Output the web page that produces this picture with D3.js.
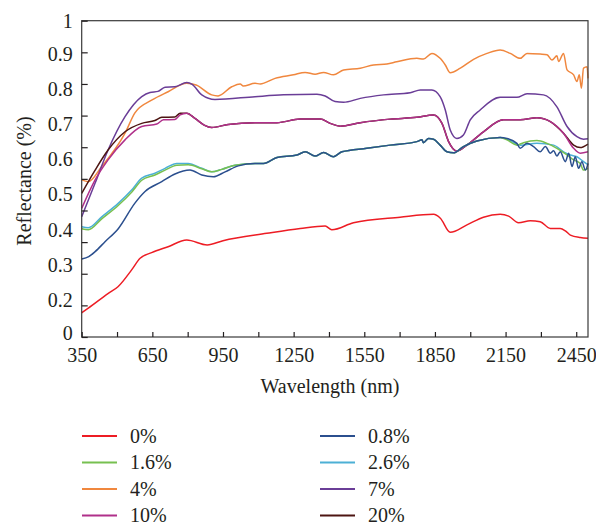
<!DOCTYPE html>
<html>
<head>
<meta charset="utf-8">
<script src="https://cdn.jsdelivr.net/npm/d3@7"></script>
<style>
  body { margin: 0; background: #fff; }
  text { font-family: "Liberation Serif", "DejaVu Serif", serif; fill: #231f20; }
</style>
</head>
<body>
<div id="chart"></div>
<script>
// values: [wavelength nm, reflectance]
var red = [[350,.158],[378,.171],[463,.213],[504,.232],[562,.280],[598,.313],[647,.329],[717,.346],[796,.365],[883,.351],[950,.363],[1136,.384],[1278,.398],[1384,.405],[1412,.394],[1504,.414],[1702,.430],[1844,.438],[1873,.427],[1915,.387],[1986,.408],[2056,.430],[2127,.438],[2163,.433],[2205,.414],[2255,.420],[2297,.417],[2340,.398],[2382,.398],[2404,.391],[2425,.379],[2467,.372],[2500,.370]]

var blueStart = [[350,.311],[380,.318],[407,.332],[449,.360],[506,.398],[576,.470],[619,.503],[690,.531],[746,.553],[810,.564],[860,.550],[909,.545],[959,.559],[1015,.576],[1086,.583]]
var cyanStart = [[350,.403],[378,.400],[435,.431],[506,.470],[562,.507],[605,.541],[661,.555],[704,.569],[754,.583],[802,.583],[860,.569],[902,.559],[945,.566],[1001,.578],[1086,.583]]
var greenStart = [[350,.397],[378,.394],[435,.425],[506,.464],[562,.501],[605,.535],[661,.550],[704,.564],[754,.578],[802,.579],[860,.568],[902,.559],[945,.566],[1001,.578],[1086,.583]]
// stretch where 0.8%, 1.6% and 2.6% lie on top of each other
var lowMid = [[1122,.583],[1179,.600],[1264,.607],[1299,.616],[1341,.604],[1377,.614],[1419,.602],[1455,.616],[1561,.626],[1660,.635],[1773,.645],[1795,.650],[1801,.642],[1823,.654],[1844,.652],[1872,.635],[1901,.616],[1929,.613],[1971,.631],[2028,.647],[2127,.657]]
var blueEnd = [[2156,.654],[2198,.640],[2212,.626],[2241,.640],[2269,.631],[2297,.616],[2319,.631],[2340,.612],[2354,.619],[2368,.604],[2382,.616],[2404,.588],[2418,.612],[2432,.574],[2446,.602],[2460,.569],[2474,.588],[2489,.564],[2500,.583]]
var cyanEnd = [[2156,.652],[2213,.635],[2283,.640],[2354,.635],[2396,.616],[2425,.607],[2453,.602],[2481,.588],[2500,.579]]
var greenEnd = [[2156,.650],[2198,.635],[2226,.642],[2283,.648],[2326,.640],[2368,.626],[2411,.607],[2439,.593],[2467,.583],[2481,.564],[2500,.569]]

var orange = [[350,.536],[378,.531],[435,.574],[534,.669],[576,.727],[647,.763],[717,.787],[796,.811],[836,.806],[902,.778],[929,.775],[987,.801],[1023,.809],[1036,.803],[1086,.811],[1108,.809],[1171,.825],[1249,.835],[1299,.842],[1341,.837],[1377,.842],[1419,.835],[1462,.849],[1533,.854],[1589,.863],[1646,.866],[1688,.872],[1773,.882],[1801,.880],[1837,.896],[1872,.882],[1894,.863],[1915,.841],[1958,.854],[2014,.879],[2071,.896],[2127,.906],[2170,.896],[2212,.882],[2241,.896],[2297,.894],[2326,.892],[2347,.877],[2368,.889],[2375,.873],[2396,.896],[2411,.849],[2439,.835],[2453,.816],[2463,.835],[2472,.797],[2481,.854],[2496,.858],[2500,.825]]

var purple = [[350,.431],[407,.527],[462,.621],[534,.716],[605,.773],[640,.785],[674,.788],[704,.800],[746,.801],[796,.813],[819,.808],[860,.778],[916,.765],[1086,.773],[1207,.778],[1349,.780],[1384,.775],[1426,.759],[1462,.757],[1533,.768],[1632,.778],[1745,.784],[1788,.792],[1837,.792],[1872,.773],[1894,.735],[1915,.678],[1943,.654],[1971,.664],[2000,.707],[2042,.735],[2127,.771],[2198,.771],[2241,.781],[2311,.778],[2368,.744],[2411,.688],[2453,.659],[2481,.652],[2500,.653]]

var magentaStart = [[350,.455],[407,.536],[462,.593],[534,.650],[605,.688],[669,.695],[697,.707],[746,.708],[768,.721],[796,.726]]
var brownStart = [[350,.498],[407,.564],[462,.621],[534,.673],[605,.697],[661,.705],[690,.714],[746,.715],[768,.726],[796,.726]]
// stretch where 10% and 20% coincide
var highMid = [[831,.711],[870,.692],[902,.685],[972,.694],[1086,.699],[1179,.699],[1278,.709],[1363,.709],[1405,.697],[1448,.689],[1533,.699],[1660,.709],[1773,.714],[1844,.721],[1880,.697],[1908,.645],[1943,.618],[1986,.635],[2056,.673],[2141,.707],[2212,.707],[2283,.713],[2340,.702],[2396,.669]]
var magentaEnd = [[2439,.626],[2467,.612],[2500,.616]]
var brownEnd = [[2439,.635],[2467,.628],[2500,.638]]

var legendLabels = ["0%", "0.8%", "1.6%", "2.6%", "4%", "7%", "10%", "20%"]
var colors = ["#ed1c24", "#2b4f8e", "#77c050", "#4cb0d5", "#f0873e", "#6a3d97", "#b0308a", "#4d1512"]
var seriesData = [
  red,
  blueStart.concat(lowMid, blueEnd),
  greenStart.concat(lowMid, greenEnd),
  cyanStart.concat(lowMid, cyanEnd),
  orange,
  purple,
  magentaStart.concat(highMid, magentaEnd),
  brownStart.concat(highMid, brownEnd)
]
// drawing order: the overlapping ones end up as in the figure
var drawOrder = [0, 4, 5, 7, 6, 3, 2, 1]

var xTicks = d3.range(350, 2451, 150)
var xLabels = d3.range(350, 2451, 300)
var yTicks = d3.range(0, 1.01, 0.1)
var yLabels = [0, 0.2, 0.3, 0.4, 0.5, 0.6, 0.7, 0.8, 0.9, 1]

var margin = {top: 20.7, left: 81.7},
    width = 506.3,
    height = 316.3

var svg = d3.select("#chart").append("svg")
    .attr("width", 596)
    .attr("height", 526)

var g = svg.append("g")
    .attr("transform", "translate(" + margin.left + "," + margin.top + ")")

var x = d3.scaleLinear().domain([350, 2500]).range([0, width])
// the figure's tick marks and its labels do not line up, so each gets a scale
var yTick = d3.scaleLinear().domain([0, 1]).range([height, 0])
var yLab = d3.scaleLinear().domain([0, 0.2, 0.9, 1]).range([312.3, 279.3, 33.3, 0.3])
var y = d3.scaleLinear().domain([0.2, 0.9]).range([277.3, 31.3])

var line = d3.line()
    .x(function(d) { return x(d[0]) })
    .y(function(d) { return y(d[1]) })
    .curve(d3.curveMonotoneX)

drawOrder.forEach(function(i) {
  g.append("path")
    .attr("d", line(seriesData[i]))
    .attr("fill", "none")
    .attr("stroke", colors[i])
    .attr("stroke-width", 1.5)
    .attr("stroke-linejoin", "round")
})

// frame
g.append("rect")
  .attr("width", width).attr("height", height)
  .attr("fill", "none").attr("stroke", "#3a3a3a").attr("stroke-width", 1.2)

// tick marks pointing inward
g.append("g")
  .call(d3.axisLeft(yTick).tickValues(yTicks).tickSizeInner(-6).tickSizeOuter(0).tickFormat(""))
  .call(function(a) { a.select(".domain").remove() })
  .selectAll("line").attr("stroke", "#231f20").attr("stroke-width", 1.2)

g.append("g")
  .attr("transform", "translate(0," + height + ")")
  .call(d3.axisBottom(x).tickValues(xTicks).tickSizeInner(-5).tickSizeOuter(0).tickFormat(""))
  .call(function(a) { a.select(".domain").remove() })
  .selectAll("line").attr("stroke", "#231f20").attr("stroke-width", 1.2)

// labels
g.append("g")
  .call(d3.axisLeft(yLab).tickValues(yLabels).tickSize(0).tickPadding(9).tickFormat(function(d) { return d === 0 || d === 1 ? d : d.toFixed(1) }))
  .call(function(a) { a.select(".domain").remove() })
  .selectAll("text")
    .style("font-size", "20px").style("font-family", "Liberation Serif").attr("fill", "#231f20")

g.append("g")
  .attr("transform", "translate(0," + height + ")")
  .call(d3.axisBottom(x).tickValues(xLabels).tickSize(0).tickPadding(11).tickFormat(d3.format("d")))
  .call(function(a) { a.select(".domain").remove() })
  .selectAll("text")
    .style("font-size", "20px").style("font-family", "Liberation Serif").attr("fill", "#231f20")

svg.append("text")
  .attr("x", 330).attr("y", 393)
  .attr("text-anchor", "middle")
  .style("font-size", "20px")
  .text("Wavelength (nm)")

svg.append("text")
  .attr("transform", "translate(31,181) rotate(-90)")
  .attr("text-anchor", "middle")
  .style("font-size", "20px")
  .text("Reflectance (%)")

// legend, two columns
var legend = svg.append("g")
legendLabels.forEach(function(lab, i) {
  var col = i % 2, row = Math.floor(i / 2)
  var lx = col === 0 ? 82 : 320
  var ly = 436 + row * 26.5
  legend.append("line")
    .attr("x1", lx).attr("x2", lx + 35)
    .attr("y1", ly).attr("y2", ly)
    .attr("stroke", colors[i]).attr("stroke-width", 1.8)
  legend.append("text")
    .attr("x", lx + 48).attr("y", ly + 6.5)
    .style("font-size", "20px")
    .text(lab)
})
</script>
</body>
</html>
